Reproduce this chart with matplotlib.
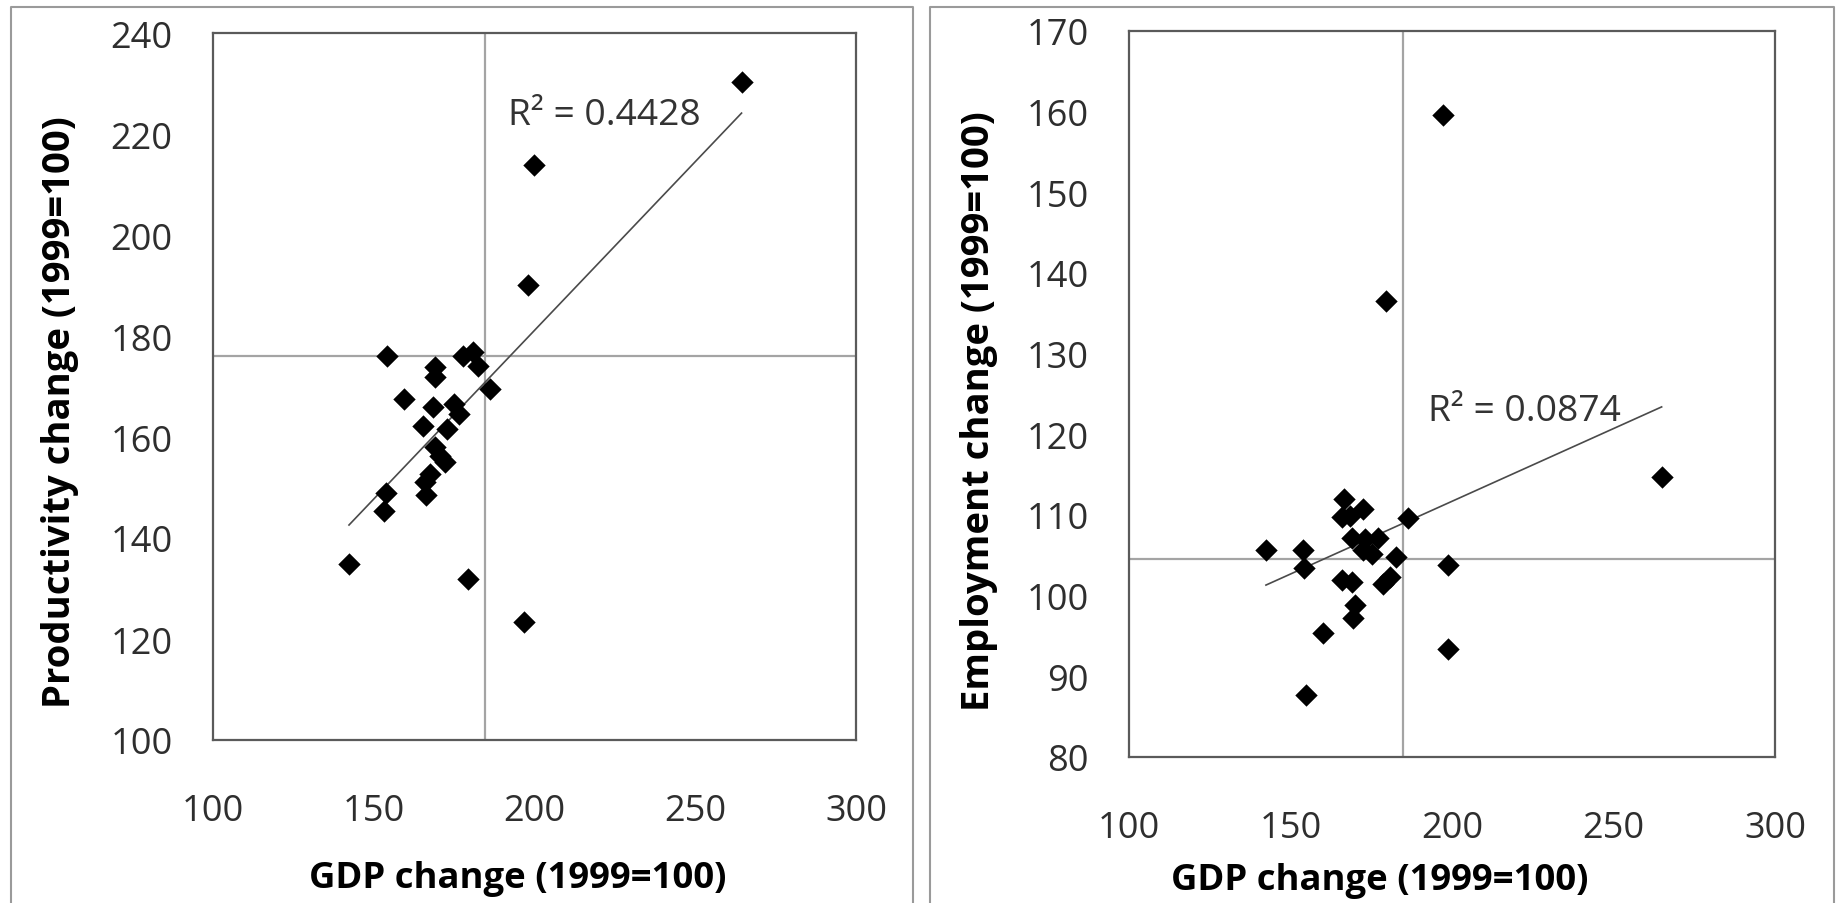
import numpy as np
import matplotlib
matplotlib.use("Agg")
import matplotlib.pyplot as plt
from matplotlib.lines import Line2D

plt.rcParams['font.family'] = ['Open Sans', 'DejaVu Sans']

# left panel: GDP change vs productivity change (1999=100)
gdp_prod = [142.3, 153.3, 153.8, 166.3, 172.2, 165.9, 167.5, 186.2, 169.0,
            172.7, 176.6, 170.6, 175.0, 182.5, 198.0, 165.2, 168.5, 177.9,
            180.8, 169.0, 169.0, 159.5, 154.2, 199.8, 196.6, 179.4, 264.4]
productivity = [134.9, 145.3, 149.0, 148.5, 155.0, 151.0, 152.7, 169.6, 158.0,
                161.6, 164.6, 156.3, 166.5, 174.1, 190.1, 162.2, 165.9, 176.1,
                176.8, 171.8, 173.8, 167.5, 176.1, 213.9, 123.3, 131.9, 230.2]

# right panel: GDP change vs employment change (1999=100)
gdp_emp = [142.4, 153.8, 154.2, 166.6, 172.5, 165.8, 168.4, 186.5, 168.9,
           173.1, 177.2, 172.5, 175.1, 182.8, 198.8, 165.8, 168.9, 178.7,
           180.8, 170.0, 169.5, 160.0, 154.7, 198.9, 197.1, 179.6, 264.9]
employment = [105.7, 105.7, 103.4, 112.0, 110.8, 109.7, 109.9, 109.6, 107.2,
              107.0, 107.2, 105.6, 105.2, 104.8, 103.8, 101.9, 101.7, 101.4,
              102.3, 98.8, 97.2, 95.4, 87.7, 93.4, 159.6, 136.5, 114.7]

# average reference lines
gdp_avg = 184.7
prod_avg = 176.1
emp_avg = 104.6

x_ticks = [100, 150, 200, 250, 300]
prod_ticks = list(range(100, 241, 20))
emp_ticks = list(range(80, 171, 10))

W, H = 1837, 904
fig = plt.figure(figsize=(W / 100, H / 100), dpi=100)
renderer = fig.canvas.get_renderer()


def fx(px):
    return px / W


def fy(py):
    return 1 - py / H


def fit_size(text, target_px, weight='normal'):
    # font size that gives the text the measured pixel width
    t = fig.text(0, 0, text, fontsize=20, fontweight=weight)
    w = t.get_window_extent(renderer=renderer).width
    t.remove()
    return 20 * target_px / w


tick_fs = fit_size('100', 62)
label_fs = fit_size('GDP change (1999=100)', 418, 'bold')
r2_fs = fit_size('R² = 0.4428', 193)


def panel(rect, x, y, xref, yref, yticks, r2, r2_xy, xlab_xy, ylab_xy, ylabel):
    ax = fig.add_axes(rect)
    ax.axvline(xref, color='#a4a4a4', lw=1.6, zorder=1)
    ax.axhline(yref, color='#a4a4a4', lw=1.6, zorder=1)
    coef = np.polyfit(x, y, 1)
    xs = np.array([min(x), max(x)])
    ax.plot(xs, np.polyval(coef, xs), color='#4a4a4a', lw=1.2, zorder=2)
    ax.scatter(x, y, marker='D', s=11.4 ** 2, color='black', linewidths=0,
               zorder=3)
    ax.text(r2_xy[0], r2_xy[1], r2, fontsize=r2_fs, color='#333333',
            ha='left', va='center')
    ax.set_xlim(100, 300)
    ax.set_ylim(yticks[0], yticks[-1])
    ax.set_xticks(x_ticks)
    ax.set_yticks(yticks)
    ax.tick_params(length=0, labelsize=tick_fs, labelcolor='#2e2e2e')
    ax.tick_params(axis='y', pad=29)
    ax.tick_params(axis='x', pad=38)
    for s in ax.spines.values():
        s.set_color('#5a5a5a')
        s.set_linewidth(1.6)
    fig.text(fx(xlab_xy[0]), fy(xlab_xy[1]), 'GDP change (1999=100)',
             fontsize=label_fs, fontweight='bold', ha='center', va='center')
    fig.text(fx(ylab_xy[0]), fy(ylab_xy[1]), ylabel, fontsize=label_fs * 1.05,
             fontweight='bold', rotation=90, ha='center', va='center')
    return ax


panel([fx(213), fy(741), fx(856 - 213), (741 - 34) / H],
      gdp_prod, productivity, gdp_avg, prod_avg, prod_ticks,
      'R² = 0.4428', (191.8, 223.8), (518, 879), (60, 412),
      'Productivity change (1999=100)')
panel([fx(1129), fy(758), fx(1775 - 1129), (758 - 32) / H],
      gdp_emp, employment, gdp_avg, emp_avg, emp_ticks,
      'R² = 0.0874', (192.7, 122.9), (1380, 881), (979, 411),
      'Employment change (1999=100)')

# panel frames
for x0, x1 in [(11, 913), (930, 1834)]:
    fig.add_artist(Line2D([fx(x0), fx(x0), fx(x1), fx(x1)],
                          [-0.01, fy(8), fy(8), -0.01],
                          transform=fig.transFigure, color='#9a9a9a', lw=1.5))

fig.savefig('out.png', dpi=100)
